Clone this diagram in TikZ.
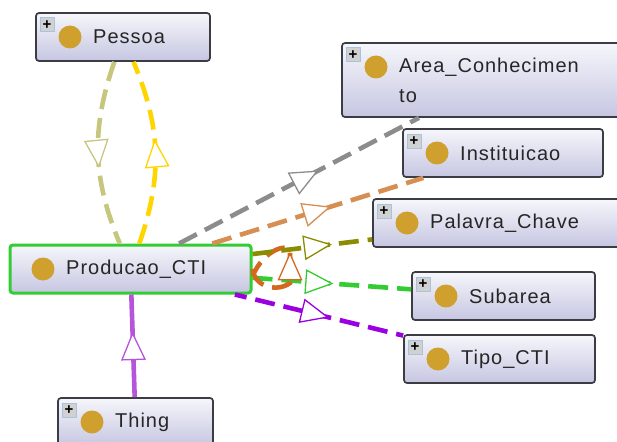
\documentclass[tikz,border=0pt]{standalone}
\usepackage{fontspec}
\setmainfont[LetterSpace=5]{Liberation Sans}
\usetikzlibrary{decorations.markings}
\definecolor{dotgold}{HTML}{CFA02E}
\definecolor{boxtop}{HTML}{F6F6FB}
\definecolor{boxbot}{HTML}{C6C6E2}
\definecolor{boxline}{HTML}{3C3C44}
\definecolor{plusline}{HTML}{A8C4DC}
\definecolor{khaki}{HTML}{C6C67E}
\definecolor{gold}{HTML}{FFD500}
\definecolor{gray}{HTML}{8C8C8C}
\definecolor{tan}{HTML}{D68E52}
\definecolor{olive}{HTML}{8C8C00}
\definecolor{lime}{HTML}{33CC33}
\definecolor{violet}{HTML}{9A00E0}
\definecolor{rust}{HTML}{D2691E}
\definecolor{orchid}{HTML}{B455DC}
\tikzset{
  classbox/.style={rounded corners=3pt,draw=boxline,line width=1.7pt,top color=boxtop,bottom color=boxbot,inner sep=0pt},
  dot/.style={circle,fill=dotgold,minimum size=23pt,inner sep=0pt},
  plusbox/.style={draw=plusline,line width=1pt,fill=black!18,minimum size=14pt,inner sep=0pt,font=\fontsize{15}{15}\selectfont\bfseries},
  classlabel/.style={anchor=west,align=left,inner sep=0pt,font=\fontsize{20}{30}\selectfont,text=black!85},
  relation/.style 2 args={draw=#2,line width=4.6pt,dash pattern=on 20pt off 9pt,postaction={decorate},
    decoration={markings,mark=at position #1 with {
      \draw[solid,draw=#2,line width=1.3pt,fill=white,line join=miter] (-26pt,-11.5pt) -- (0pt,0pt) -- (-26pt,11.5pt) -- cycle;}}},
  subclass/.style 2 args={relation={#1}{#2},solid},
}
\begin{document}
\begin{tikzpicture}[x=1pt,y=-1pt]
\useasboundingbox (0,0) rectangle (617,441);
\clip (0,0) rectangle (617,441);
% classes
\foreach \name/\xa/\ya/\xb/\yb/\txt in {Pessoa/36/13/210/61/Pessoa,
  Area/342/43/640/117/{Area\_Conhecimen\\to},
  Instituicao/403/129/603/177/Instituicao,
  Palavra/373/199/640/247/Palavra\_Chave,
  Subarea/412/272/595/320/Subarea,
  Tipo/404/335/595/383/Tipo\_CTI,
  Thing/58/398/213/446/Thing}
{
\node[classbox,minimum width={(\xb-\xa)*1pt},minimum height={(\yb-\ya)*1pt}] (\name) at ({(\xa+\xb)/2},{(\ya+\yb)/2}) {};
\node[dot] (\name Dot) at (\xa+34,\ya+24) {};
\node[plusbox] (\name Plus) at (\xa+11,\ya+12) {+};
\node[classlabel] (\name Label) at (\xa+57,\ya+\ifnum\yb=117 37\else 24\fi) {\txt};
}
\node[classbox,draw=lime,line width=3pt,minimum width=241pt,minimum height=48pt] (Producao) at (130.5,269) {};
\node[dot] (ProducaoDot) at (43,269) {};
\node[classlabel] (ProducaoLabel) at (66,269) {Producao\_CTI};
% relations
\draw[relation={.57}{khaki}] (Pessoa) to[bend right=21] (Producao);
\draw[relation={.56}{gold}] (Producao) to[bend right=21] (Pessoa);
\draw[relation={.575}{gray}] (Producao) -- (Area);
\draw[relation={.555}{tan}] (Producao) -- (Instituicao);
\draw[relation={.5}{lime}] (Producao) -- (Subarea);
\draw[relation={.55}{violet},dash phase=8pt] (Producao) -- (Tipo);
\draw[relation={.585}{rust}] (Producao.east) .. controls (255,288) and (278,292) .. (290,283) -- (290,250) .. controls (288,244) and (265,248) .. ([yshift=-7pt]Producao.east);
\draw[relation={.65}{olive}] (Producao) -- (Palavra);
\draw[subclass={.62}{orchid}] (Thing) -- (Producao);
\end{tikzpicture}
\end{document}
